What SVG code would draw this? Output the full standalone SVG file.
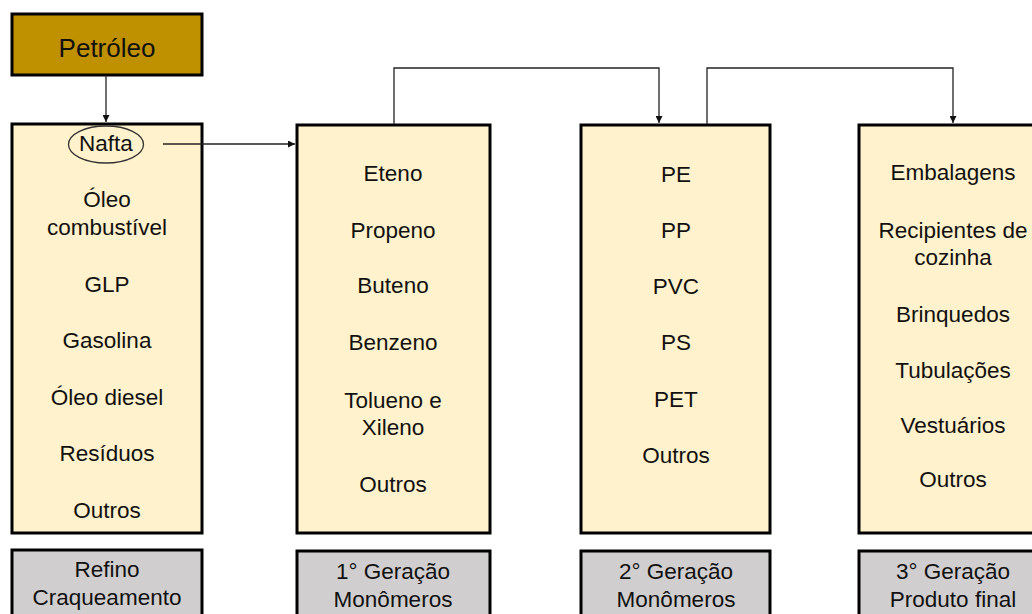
<svg xmlns="http://www.w3.org/2000/svg" width="1032" height="614" viewBox="0 0 1032 614">
<defs>
<style>
.box{fill:#FFF2CC;stroke:#000;stroke-width:3}
.gray{fill:#D0CECE;stroke:#000;stroke-width:3}
.top{fill:#BF9000;stroke:#000;stroke-width:3}
text{font-family:"Liberation Sans",Arial,sans-serif;font-size:22.5px;fill:#111;text-anchor:middle}
.conn{fill:none;stroke:#222;stroke-width:1.3}
</style>
<marker id="arr" viewBox="0 0 10 10" refX="10" refY="5" markerWidth="7" markerHeight="7" markerUnits="userSpaceOnUse" orient="auto">
<path d="M0,0 L10,5 L0,10 z" fill="#111"/>
</marker>
</defs>
<rect width="1032" height="614" fill="#fff"/>
<g id="petroleo">
<rect class="top" x="12" y="14" width="190" height="61"/>
<text x="107" y="57" style="font-size:26px">Petróleo</text>
</g>
<g id="col1">
<rect class="box" x="12" y="124" width="190" height="409"/>
<ellipse cx="106" cy="144.5" rx="37.5" ry="18.5" fill="none" stroke="#333" stroke-width="1.3"/>
<text x="106" y="151">Nafta</text>
<text x="107" y="207">Óleo</text>
<text x="107" y="235">combustível</text>
<text x="107" y="292">GLP</text>
<text x="107" y="348">Gasolina</text>
<text x="107" y="405">Óleo diesel</text>
<text x="107" y="461">Resíduos</text>
<text x="107" y="518">Outros</text>
</g>
<g id="col2">
<rect class="box" x="297" y="125" width="193" height="408"/>
<text x="393" y="181">Eteno</text>
<text x="393" y="238">Propeno</text>
<text x="393" y="293">Buteno</text>
<text x="393" y="350">Benzeno</text>
<text x="393" y="408">Tolueno e</text>
<text x="393" y="435">Xileno</text>
<text x="393" y="492">Outros</text>
</g>
<g id="col3">
<rect class="box" x="581" y="125" width="189" height="408"/>
<text x="676" y="182">PE</text>
<text x="676" y="238">PP</text>
<text x="676" y="294">PVC</text>
<text x="676" y="350">PS</text>
<text x="676" y="407">PET</text>
<text x="676" y="463">Outros</text>
</g>
<g id="col4">
<rect class="box" x="859" y="125" width="190" height="408"/>
<text x="953" y="180">Embalagens</text>
<text x="953" y="238">Recipientes de</text>
<text x="953" y="265">cozinha</text>
<text x="953" y="322">Brinquedos</text>
<text x="953" y="378">Tubulações</text>
<text x="953" y="433">Vestuários</text>
<text x="953" y="487">Outros</text>
</g>
<g id="label1">
<rect class="gray" x="12" y="550" width="190" height="80"/>
<text x="107" y="577">Refino</text>
<text x="107" y="605">Craqueamento</text>
</g>
<g id="label2">
<rect class="gray" x="297" y="551" width="193" height="80"/>
<text x="393" y="579">1° Geração</text>
<text x="393" y="607">Monômeros</text>
</g>
<g id="label3">
<rect class="gray" x="581" y="551" width="189" height="80"/>
<text x="676" y="579">2° Geração</text>
<text x="676" y="607">Monômeros</text>
</g>
<g id="label4">
<rect class="gray" x="859" y="551" width="190" height="80"/>
<text x="953" y="579">3° Geração</text>
<text x="953" y="607">Produto final</text>
</g>
<g id="connectors">
<path class="conn" d="M106,75 V122" marker-end="url(#arr)"/>
<path class="conn" d="M163,144 H295" marker-end="url(#arr)"/>
<path class="conn" d="M394,124 V68 H659 V123" marker-end="url(#arr)"/>
<path class="conn" d="M707,124 V68 H953 V123" marker-end="url(#arr)"/>
</g>
</svg>
